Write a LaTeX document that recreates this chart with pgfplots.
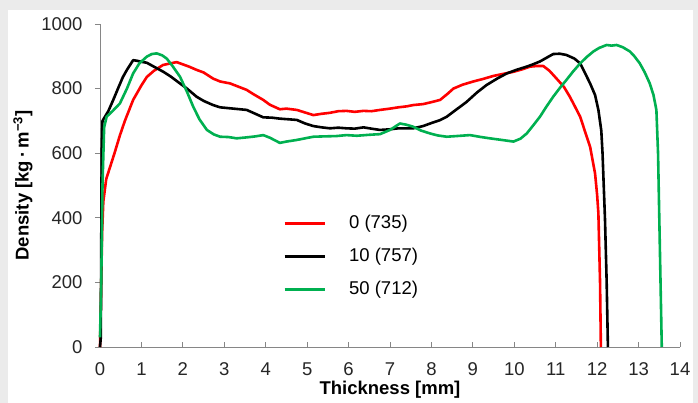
\documentclass[border=0pt]{standalone}
\usepackage{fontspec}
\setmainfont{Liberation Sans}
\usepackage{pgfplots}
\pgfplotsset{compat=1.18}
\definecolor{exgreen}{RGB}{0,176,80}
\definecolor{exred}{RGB}{255,0,0}
\definecolor{axgray}{RGB}{134,134,134}
\definecolor{bggray}{RGB}{235,235,235}
\newcommand{\tfont}{\fontsize{18.5bp}{22bp}\selectfont}
\begin{document}
\begin{tikzpicture}
\fill[bggray] (0,0) rectangle (698bp,403bp);
\fill[white] (8bp,0) rectangle (693bp,393bp);
\begin{axis}[
  at={(100bp,56bp)}, anchor=south west,
  scale only axis, width=580bp, height=323bp,
  xmin=0, xmax=14, ymin=0, ymax=1000,
  xtick={0,1,...,14}, ytick={0,200,...,1000},
  axis x line*=bottom, axis y line*=left,
  axis line style={axgray, line width=0.8bp},
  tick style={axgray, line width=0.8bp},
  tick align=inside, major tick length=5bp,
  y tick style={xshift=-5bp},
  /pgf/number format/assume math mode=true,
  /pgf/number format/1000 sep={},
  ticklabel style={font=\tfont, text=black!85},
  xticklabel style={yshift=-12bp},
  yticklabel style={xshift=-14bp},
  xlabel={\textbf{Thickness [mm]}},
  ylabel={\textbf{Density [kg\,·\,m\textsuperscript{−3}]}},
  label style={font=\tfont},
  xlabel style={yshift=1bp},
  ylabel style={yshift=2bp},
  clip=false,
  legend style={at={(axis cs:4.42,279)}, anchor=west, draw=none, fill=none,
    inner sep=0pt, row sep=16bp, font=\tfont,
    nodes={inner sep=0pt, text height=13bp, text depth=4bp},
    /tikz/every odd column/.append style={column sep=23bp}},
  legend cell align=left,
  legend image code/.code={\draw[#1, line width=2.8bp] (0bp,0bp) -- (40bp,0bp);},
  every axis plot/.append style={line width=2.6bp, line join=round},
]
\addplot[exred] coordinates {
(0.0,0) (0.03,200) (0.05,350) (0.08,450) (0.15,520) (0.25,560) (0.35,600) (0.48,655)
(0.6,700) (0.8,765) (1.0,810) (1.13,836) (1.3,855) (1.52,873) (1.7,878) (1.85,882)
(2.0,875) (2.15,868) (2.33,858) (2.5,850) (2.73,831) (2.9,822) (3.14,816) (3.3,808)
(3.54,796) (3.7,783) (3.94,765) (4.1,750) (4.34,736) (4.5,738) (4.75,734) (4.95,726)
(5.15,718) (5.35,722) (5.55,725) (5.75,730) (5.95,731) (6.15,728) (6.36,731) (6.55,730)
(6.76,734) (7.0,738) (7.2,742) (7.4,745) (7.56,749) (7.8,752) (8.0,758) (8.21,765)
(8.4,785) (8.53,800) (8.75,812) (9.01,822) (9.25,830) (9.49,839) (9.75,846) (9.98,852)
(10.2,860) (10.38,868) (10.55,870) (10.7,870) (10.85,855) (11.02,831) (11.2,805) (11.34,775)
(11.45,748) (11.59,713) (11.7,670) (11.83,620) (11.95,537) (12.0,470) (12.03,414) (12.07,200) (12.09,0)
};
\addlegendentry{0 (735)}
\addplot[black] coordinates {
(0.0,0) (0.02,30) (0.04,600) (0.06,700) (0.12,713) (0.2,730) (0.32,765) (0.45,805)
(0.55,835) (0.65,858) (0.8,888) (0.9,886) (1.0,883) (1.13,880) (1.3,868) (1.53,852)
(1.7,838) (1.93,816) (2.1,800) (2.33,775) (2.5,762) (2.73,749) (2.9,742) (3.14,739)
(3.3,737) (3.54,734) (3.75,722) (3.94,711) (4.15,710) (4.34,707) (4.55,705) (4.75,703)
(4.95,692) (5.15,684) (5.35,680) (5.55,677) (5.75,679) (5.95,677) (6.15,676) (6.36,680)
(6.55,676) (6.76,672) (7.0,674) (7.2,677) (7.56,677) (7.8,684) (7.97,692) (8.2,702)
(8.37,713) (8.6,735) (8.85,759) (9.1,788) (9.33,811) (9.6,832) (9.82,847) (10.05,858)
(10.3,868) (10.45,875) (10.62,884) (10.8,897) (10.94,907) (11.1,908) (11.26,904) (11.45,893)
(11.59,878) (11.7,850) (11.83,816) (11.95,780) (12.03,734) (12.1,670) (12.13,600) (12.19,393)
(12.23,200) (12.26,0)
};
\addlegendentry{10 (757)}
\addplot[exgreen] coordinates {
(0.0,30) (0.03,200) (0.06,500) (0.1,680) (0.16,713) (0.3,730) (0.48,754) (0.65,800)
(0.8,847) (0.95,878) (1.13,899) (1.25,907) (1.37,909) (1.5,903) (1.61,893) (1.75,870)
(1.93,837) (2.1,790) (2.25,744) (2.4,705) (2.58,672) (2.75,658) (2.9,651) (3.1,650)
(3.3,646) (3.54,649) (3.75,652) (3.94,656) (4.1,648) (4.34,632) (4.5,636) (4.75,641)
(4.95,646) (5.15,651) (5.4,652) (5.7,653) (5.95,656) (6.2,654) (6.5,657) (6.76,659)
(7.0,672) (7.24,692) (7.4,688) (7.56,682) (7.75,670) (7.97,661) (8.15,655) (8.37,651)
(8.6,653) (8.93,656) (9.2,650) (9.41,646) (9.7,641) (9.98,636) (10.15,645) (10.3,661)
(10.45,685) (10.62,713) (10.78,745) (10.94,775) (11.1,802) (11.26,827) (11.42,853) (11.59,878)
(11.75,898) (11.91,915) (12.05,926) (12.23,935) (12.35,933) (12.47,935) (12.62,928) (12.79,915)
(12.9,900) (13.03,878) (13.15,850) (13.27,816) (13.36,780) (13.43,734) (13.47,600) (13.5,400)
(13.53,200) (13.56,0)
};
\addlegendentry{50 (712)}
\end{axis}
\end{tikzpicture}
\end{document}
